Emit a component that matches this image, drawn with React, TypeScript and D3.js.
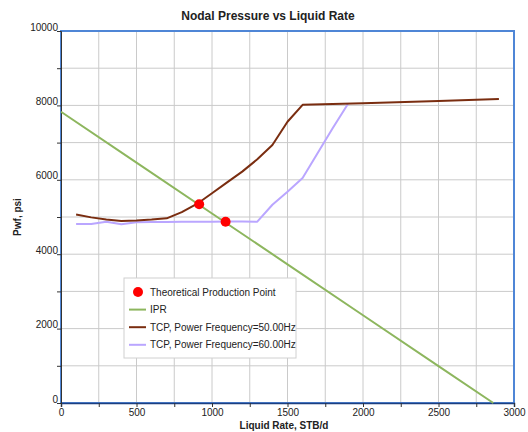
import React, { useEffect, useRef } from 'react';
import * as d3 from 'd3';

// IPR curve (straight line)
const iprRate = [0, 500, 1000, 1500, 2000, 2500, 2863];
const iprPwf = [7830, 6463, 5095, 3728, 2360, 993, 0];

// TCP at 50 Hz
const tcp50Rate = [100, 200, 300, 400, 500, 600, 700, 800, 900, 1000, 1100, 1200, 1300, 1400, 1500, 1600, 2000, 2500, 2900];
const tcp50Pwf = [5070, 4990, 4930, 4895, 4905, 4930, 4965, 5130, 5350, 5640, 5930, 6220, 6550, 6935, 7560, 8015, 8060, 8120, 8172];

// TCP at 60 Hz
const tcp60Rate = [100, 200, 300, 400, 500, 600, 700, 800, 900, 1000, 1100, 1200, 1300, 1400, 1500, 1600, 1700, 1800, 1900];
const tcp60Pwf = [4810, 4810, 4875, 4808, 4862, 4865, 4868, 4870, 4872, 4874, 4876, 4877, 4875, 5330, 5680, 6050, 6720, 7390, 8040];

// operating points
const opRate = [915, 1090];
const opPwf = [5345, 4870];

const legendLabels = [
  'Theoretical Production Point',
  'IPR',
  'TCP, Power Frequency=50.00Hz',
  'TCP, Power Frequency=60.00Hz',
];

const W = 528, H = 432;
const margin = { left: 61, right: 14, top: 31, bottom: 29 };
const font = '"Liberation Sans", Arial, sans-serif';

export default function App() {
  const ref = useRef<SVGSVGElement>(null);

  useEffect(() => {
    const svg = d3.select(ref.current);
    svg.selectAll('*').remove();

    const x = d3.scaleLinear().domain([0, 3000]).range([margin.left, W - margin.right]);
    const y = d3.scaleLinear().domain([0, 10000]).range([H - margin.bottom, margin.top]);

    svg.append('rect').attr('width', W).attr('height', H).attr('fill', '#fff');

    // grid
    const g = svg.append('g');
    g.selectAll('.vg').data(d3.range(250, 3000, 250)).enter().append('line')
      .attr('x1', d => x(d)).attr('x2', d => x(d))
      .attr('y1', y(0)).attr('y2', y(10000))
      .attr('stroke', '#cacaca').attr('stroke-width', 1);
    g.selectAll('.hg').data(d3.range(1000, 10000, 1000)).enter().append('line')
      .attr('y1', d => y(d)).attr('y2', d => y(d))
      .attr('x1', x(0)).attr('x2', x(3000))
      .attr('stroke', '#cacaca').attr('stroke-width', 1);

    // frame
    svg.append('rect')
      .attr('x', x(0)).attr('y', y(10000))
      .attr('width', x(3000) - x(0)).attr('height', y(0) - y(10000))
      .attr('fill', 'none').attr('stroke', '#4f86d6').attr('stroke-width', 2);

    // axes
    const xAxis = d3.axisBottom(x).tickValues(d3.range(0, 3001, 250)).tickSize(4)
      .tickFormat(d => (+d % 500 === 0 ? String(d) : ''));
    const xg = svg.append('g').attr('transform', `translate(0,${y(0)})`).call(xAxis);
    xg.select('.domain').attr('stroke', '#1c3f80').attr('stroke-width', 1.5);
    xg.selectAll('.tick line').attr('stroke', '#333');
    xg.selectAll('text').attr('font-family', font).attr('font-size', 10).attr('fill', '#222').attr('dy', '0.6em');

    const yAxis = d3.axisLeft(y).tickValues(d3.range(0, 10001, 1000)).tickSize(4)
      .tickFormat(d => (+d % 2000 === 0 ? String(d) : ''));
    const yg = svg.append('g').attr('transform', `translate(${x(0)},0)`).call(yAxis);
    yg.select('.domain').attr('stroke', '#333').attr('stroke-width', 1);
    yg.selectAll('.tick line').attr('stroke', '#333');
    yg.selectAll('text').attr('font-family', font).attr('font-size', 10).attr('fill', '#222')
      .attr('x', -3).attr('dy', '-0.1em');

    // titles
    svg.append('text').attr('x', 268).attr('y', 20).attr('text-anchor', 'middle')
      .attr('font-family', font).attr('font-size', 12).attr('font-weight', 'bold').attr('fill', '#222')
      .text('Nodal Pressure vs Liquid Rate');
    svg.append('text').attr('x', 284).attr('y', 429).attr('text-anchor', 'middle')
      .attr('font-family', font).attr('font-size', 10).attr('font-weight', 'bold').attr('fill', '#222')
      .text('Liquid Rate, STB/d');
    svg.append('text').attr('transform', `translate(21,217) rotate(-90)`).attr('text-anchor', 'middle')
      .attr('font-family', font).attr('font-size', 10).attr('font-weight', 'bold').attr('fill', '#222')
      .text('Pwf, psi');

    const line = d3.line<[number, number]>().x(d => x(d[0])).y(d => y(d[1]));
    const series = [
      { r: iprRate, p: iprPwf, color: '#8db65e', w: 2 },
      { r: tcp60Rate, p: tcp60Pwf, color: '#baa6ff', w: 2 },
      { r: tcp50Rate, p: tcp50Pwf, color: '#7a2d10', w: 2 },
    ];
    const lines = svg.append('g');
    series.forEach(s => {
      lines.append('path')
        .attr('d', line(s.r.map((v, i) => [v, s.p[i]] as [number, number])))
        .attr('fill', 'none').attr('stroke', s.color).attr('stroke-width', s.w)
        .attr('stroke-linejoin', 'round');
    });

    svg.selectAll('.op').data(opRate).enter().append('circle')
      .attr('cx', d => x(d)).attr('cy', (d, i) => y(opPwf[i]))
      .attr('r', 5).attr('fill', '#ff0000');

    // legend
    const lg = svg.append('g').attr('transform', 'translate(124,278)');
    lg.append('rect').attr('width', 172).attr('height', 80)
      .attr('fill', '#fff').attr('stroke', '#d0d0d0');
    const colors = ['#ff0000', '#8db65e', '#7a2d10', '#baa6ff'];
    legendLabels.forEach((lab, i) => {
      const cy = 14 + i * 17.6;
      if (i === 0) {
        lg.append('circle').attr('cx', 14).attr('cy', cy).attr('r', 5).attr('fill', colors[i]);
      } else {
        lg.append('line').attr('x1', 5).attr('x2', 22).attr('y1', cy).attr('y2', cy)
          .attr('stroke', colors[i]).attr('stroke-width', 2);
      }
      lg.append('text').attr('x', 26).attr('y', cy).attr('dy', '0.35em')
        .attr('font-family', font).attr('font-size', 10).attr('fill', '#222').text(lab);
    });
  }, []);

  return (
    <svg ref={ref} width={W} height={H}
      style={{ position: 'absolute', left: 0, top: 0, display: 'block' }} />
  );
}
